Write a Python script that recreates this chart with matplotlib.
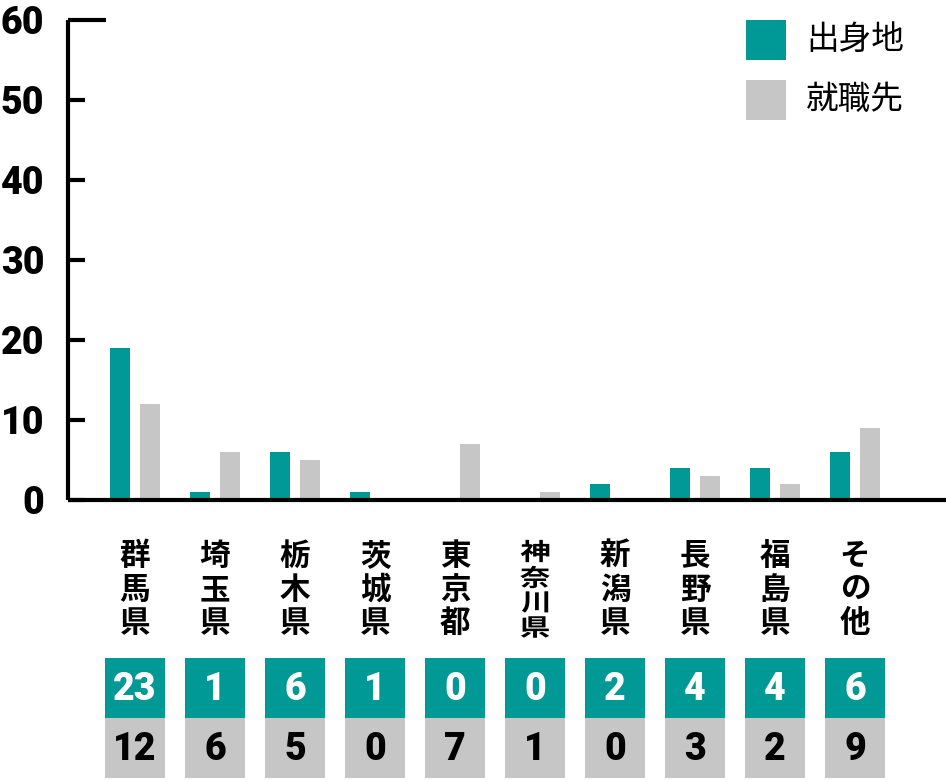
import matplotlib.pyplot as plt
from matplotlib.patches import Rectangle, PathPatch
from matplotlib.textpath import TextPath
from matplotlib.font_manager import FontProperties
from matplotlib.transforms import blended_transform_factory, Affine2D, IdentityTransform

# bar heights as drawn, and the numbers printed in the table under them
categories = ["群馬県", "埼玉県", "栃木県", "茨城県", "東京都", "神奈川県", "新潟県", "長野県", "福島県", "その他"]
origin_bars = [19, 1, 6, 1, 0, 0, 2, 4, 4, 6]
job_bars = [12, 6, 5, 0, 7, 1, 0, 3, 2, 9]
origin_table = ["23", "1", "6", "1", "0", "0", "2", "4", "4", "6"]
job_table = ["12", "6", "5", "0", "7", "1", "0", "3", "2", "9"]
series_names = ["出身地", "就職先"]
yticks = [0, 10, 20, 30, 40, 50, 60]

TEAL = "#009995"
GRAY = "#c6c6c6"
W, H = 946, 780
JP = ["Noto Sans CJK JP", "DejaVu Sans"]
NUM = ["Roboto", "DejaVu Sans"]

fig = plt.figure(figsize=(W / 100, H / 100), dpi=100)
ax = fig.add_axes([68 / W, 280 / H, 878 / W, 480 / H])

x = list(range(len(categories)))
ax.bar([i - 0.1875 for i in x], origin_bars, width=0.25, color=TEAL)
ax.bar([i + 0.1875 for i in x], job_bars, width=0.25, color=GRAY)

ax.set_xlim(-0.8375, 10.1375)
ax.set_ylim(0, 60)
ax.set_xticks([])
ax.set_yticks(yticks)
ax.set_yticklabels([str(v) for v in yticks], family=NUM, fontweight=900, fontsize=27)
ax.tick_params(axis="y", direction="in", length=12.5, width=3, pad=17)
ax.yaxis.get_major_ticks()[-1].tick1line.set_markersize(27)
for s in ["top", "right"]:
    ax.spines[s].set_visible(False)
for s in ["left", "bottom"]:
    ax.spines[s].set_linewidth(3)
    ax.spines[s].set_capstyle("butt")

jp_bold = FontProperties(family="Noto Sans CJK JP", weight="bold")


def squashed_char(ch, cx, cy, size, sy):
    # glyph drawn as a path so it can be squeezed vertically (pixel coords)
    tp = TextPath((0, 0), ch, size=size, prop=jp_bold)
    bb = tp.get_extents()
    t = (Affine2D().translate(-(bb.x0 + bb.x1) / 2, -(bb.y0 + bb.y1) / 2)
         .scale(1, sy).translate(cx, cy))
    fig.patches.append(PathPatch(t.transform_path(tp), transform=IdentityTransform(),
                                 color="black", lw=0))


# table and category labels below the axis
tr = blended_transform_factory(ax.transData, fig.transFigure)
for i in x:
    fig.patches.append(Rectangle((i - 0.375, 62 / H), 0.75, 60 / H, transform=tr,
                                 color=TEAL, lw=0))
    fig.patches.append(Rectangle((i - 0.375, 2 / H), 0.75, 60 / H, transform=tr,
                                 color=GRAY, lw=0))
    fig.text(i, (H - 690) / H, origin_table[i], transform=tr, ha="center", va="center",
             family=NUM, fontweight=900, fontsize=27, color="white")
    fig.text(i, (H - 750) / H, job_table[i], transform=tr, ha="center", va="center",
             family=NUM, fontweight=900, fontsize=27, color="black")

    label = categories[i]
    if len(label) == 3:
        for ch, yy in zip(label, [556, 590, 623]):
            fig.text(i, (H - yy) / H, ch, transform=tr, ha="center", va="center",
                     family=JP, fontweight="bold", fontsize=22, color="black")
    else:
        cx = ax.transData.transform((i, 0))[0]
        for ch, yy in zip(label, [551, 577, 602, 627]):
            squashed_char(ch, cx, H - yy, 30.5, 0.78)

# legend
for k, (name, c) in enumerate(zip(series_names, [TEAL, GRAY])):
    top = 20 + 60 * k
    fig.patches.append(Rectangle((746 / W, (H - top - 40) / H), 40 / W, 40 / H,
                                 transform=fig.transFigure, color=c, lw=0))
    fig.text(806 / W, (H - top - 20) / H, name, ha="left", va="center",
             family=JP, fontsize=23.5, color="black")

fig.savefig("out.png", dpi=100)
